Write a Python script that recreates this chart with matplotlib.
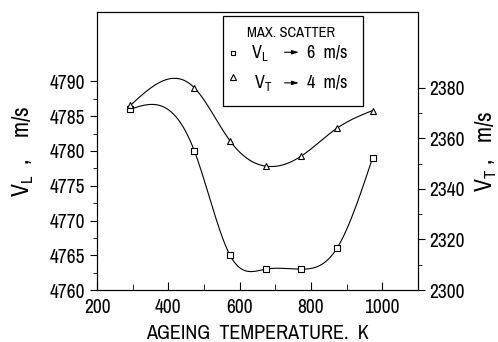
import numpy as np
import matplotlib
matplotlib.use("Agg")
import matplotlib.pyplot as plt
from matplotlib import font_manager

names = sorted({f.name for f in font_manager.fontManager.ttflist})
narrow = [n for n in names if 'Narrow' in n or 'Condensed' in n]
plt.rcParams['font.family'] = narrow[:1] + ['DejaVu Sans']
plt.rcParams['font.stretch'] = 'condensed'
plt.rcParams['mathtext.fontset'] = 'custom'
plt.rcParams['mathtext.rm'] = plt.rcParams['font.family'][0]

# data
temp = [293, 473, 573, 673, 773, 873, 973]
v_long = [4786, 4780, 4765, 4763, 4763, 4766, 4779]
v_trans = [2373, 2380, 2359, 2349, 2353, 2364, 2371]


def natural_spline(x, y, xs):
    x = np.asarray(x, float)
    y = np.asarray(y, float)
    n = len(x)
    h = np.diff(x)
    A = np.zeros((n, n))
    b = np.zeros(n)
    A[0, 0] = A[-1, -1] = 1
    for i in range(1, n - 1):
        A[i, i - 1] = h[i - 1]
        A[i, i] = 2 * (h[i - 1] + h[i])
        A[i, i + 1] = h[i]
        b[i] = 3 * ((y[i + 1] - y[i]) / h[i] - (y[i] - y[i - 1]) / h[i - 1])
    c = np.linalg.solve(A, b)
    bb = (y[1:] - y[:-1]) / h - h * (2 * c[:-1] + c[1:]) / 3
    d = (c[1:] - c[:-1]) / (3 * h)
    idx = np.clip(np.searchsorted(x, xs) - 1, 0, n - 2)
    dx = xs - x[idx]
    return y[idx] + bb[idx] * dx + c[idx] * dx**2 + d[idx] * dx**3


fig = plt.figure(figsize=(4.98, 3.42), dpi=100)
ax = fig.add_axes([0.195, 0.152, 0.644, 0.813])
ax2 = ax.twinx()

xs = np.linspace(temp[0], temp[-1], 300)
ax.plot(xs, natural_spline(temp, v_long, xs), color='black', lw=0.8)
ax.plot(temp, v_long, 's', mfc='white', mec='black', ms=4.3, mew=0.8)
ax2.plot(xs, natural_spline(temp, v_trans, xs), color='black', lw=0.8)
ax2.plot(temp, v_trans, '^', mfc='white', mec='black', ms=5, mew=0.8)

ax.set_xlim(200, 1100)
ax.set_ylim(4760, 4800)
ax2.set_ylim(2300, 2410)
ax.set_xticks([200, 400, 600, 800, 1000])
ax.set_xticks(np.arange(300, 1100, 200), minor=True)
ax.set_yticks(np.arange(4760, 4791, 5))
ax.set_yticks(np.arange(4762.5, 4790, 5), minor=True)
ax2.set_yticks(np.arange(2300, 2381, 20))
ax2.set_yticks(np.arange(2310, 2380, 20), minor=True)

ax.tick_params(axis='x', which='both', direction='in', labelsize=14, pad=6)
ax.tick_params(axis='x', which='major', length=6)
ax.tick_params(axis='x', which='minor', length=4)
ax.tick_params(axis='y', which='both', direction='out', labelsize=14)
ax.tick_params(axis='y', which='major', length=5)
ax.tick_params(axis='y', which='minor', length=3)
ax2.tick_params(axis='y', which='both', direction='out', labelsize=14)
ax2.tick_params(axis='y', which='major', length=5)
ax2.tick_params(axis='y', which='minor', length=3)

ax.set_xlabel('AGEING  TEMPERATURE.  K', fontsize=14.5, labelpad=5)
ax.set_ylabel(r'V$_\mathrm{L}$  ,    m/s', fontsize=17, labelpad=10)
ax2.set_ylabel(r'V$_\mathrm{T}$ ,   m/s', fontsize=17, labelpad=6)

# legend box
tr = ax.transAxes
ax.add_patch(plt.Rectangle((0.393, 0.662), 0.436, 0.324, transform=tr,
                           fill=False, lw=0.9, ec='black', zorder=5))
ax.text(0.604, 0.924, 'MAX. SCATTER', transform=tr, ha='center', va='center', fontsize=10.5)
ax.plot([0.424], [0.853], 's', mfc='white', mec='black', ms=3.5, mew=0.8, transform=tr)
ax.plot([0.424], [0.765], '^', mfc='white', mec='black', ms=4, mew=0.8, transform=tr)
ax.text(0.480, 0.853, r'V$_\mathrm{L}$', transform=tr, ha='left', va='center', fontsize=13)
ax.text(0.488, 0.745, r'V$_\mathrm{T}$', transform=tr, ha='left', va='center', fontsize=13)
for yy in (0.855, 0.745):
    ax.annotate('', xy=(0.638, yy), xytext=(0.576, yy), xycoords=tr,
                arrowprops=dict(arrowstyle='-|>,head_length=0.4,head_width=0.12', lw=0.8, color='black'))
ax.text(0.654, 0.853, '6  m/s', transform=tr, ha='left', va='center', fontsize=13)
ax.text(0.654, 0.745, '4  m/s', transform=tr, ha='left', va='center', fontsize=13)

fig.savefig('out.png', dpi=100)
